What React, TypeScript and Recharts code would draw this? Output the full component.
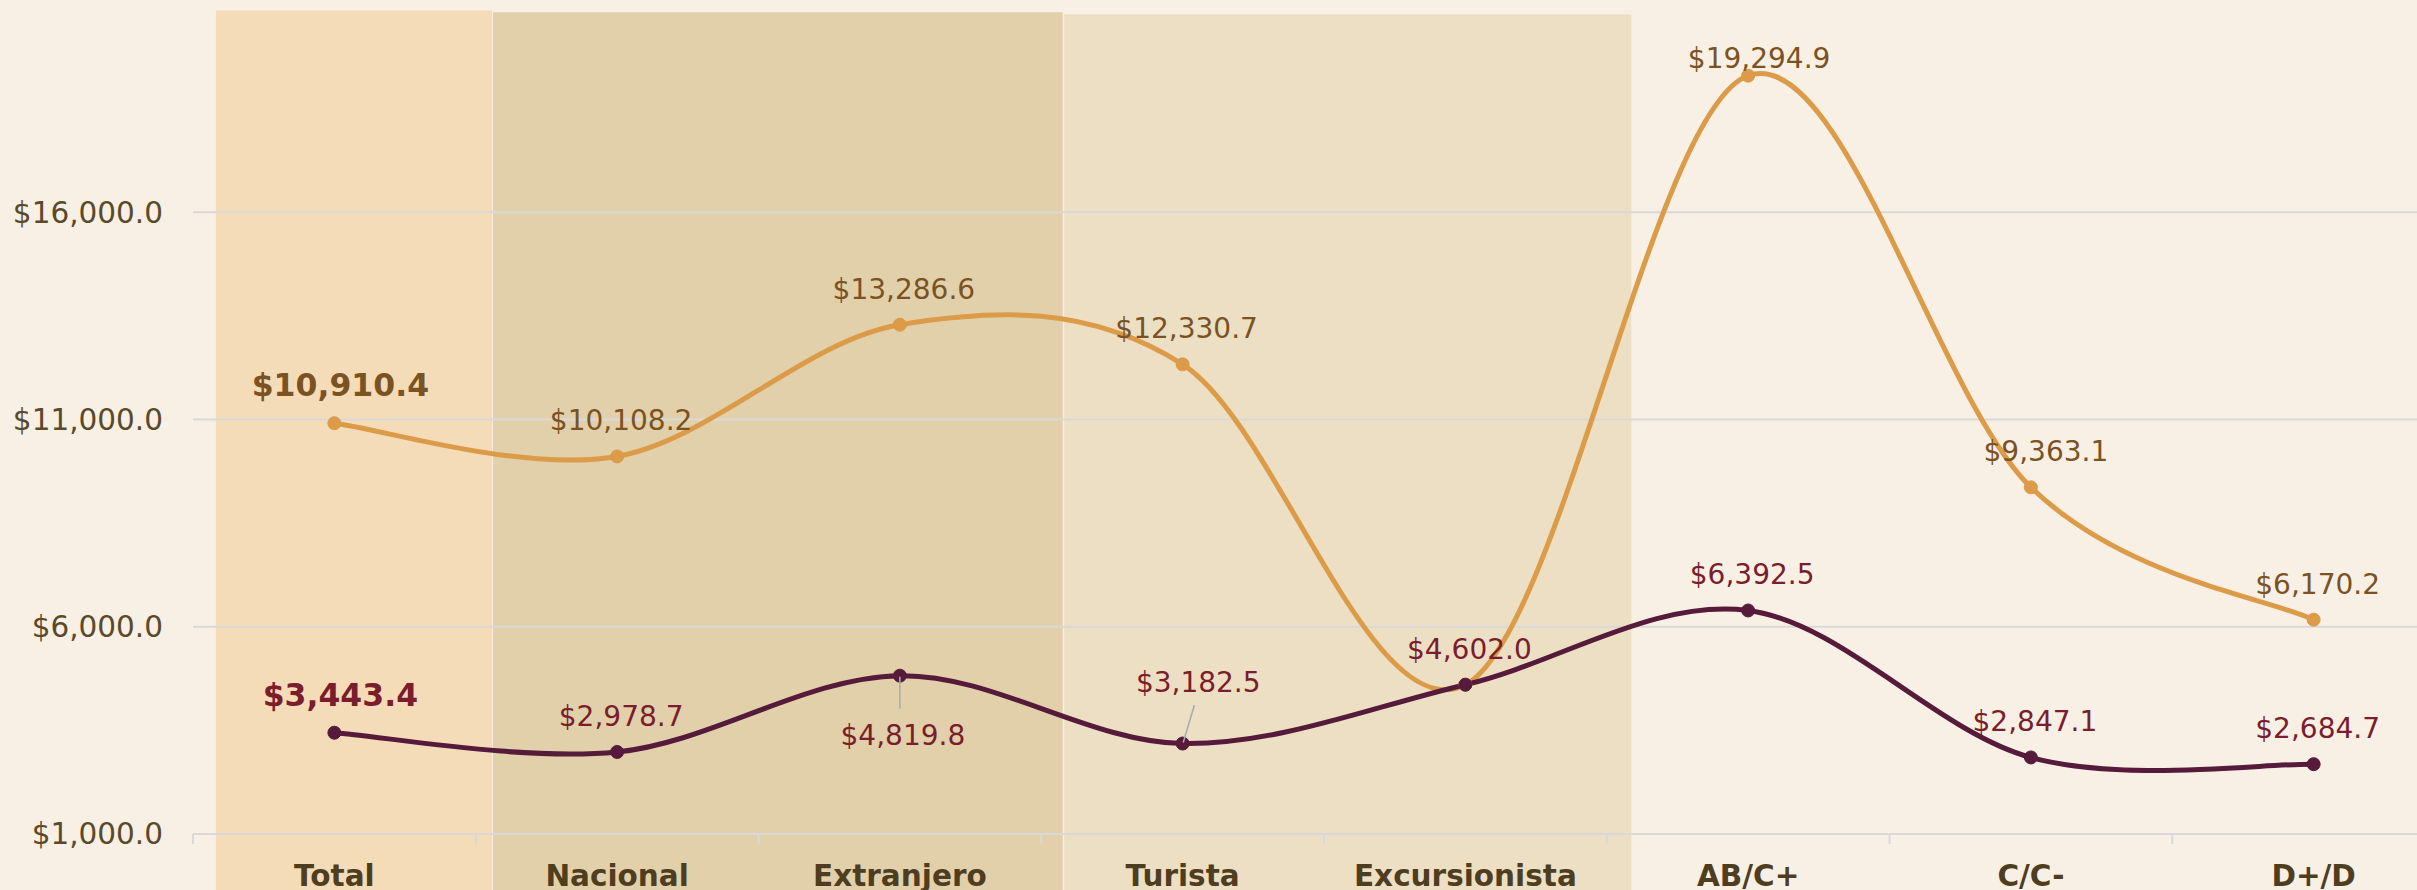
import React from 'react';
import { LineChart, Line, XAxis, YAxis, CartesianGrid, ReferenceArea, LabelList } from 'recharts';

// ---------- data ----------
const categories = ['Total', 'Nacional', 'Extranjero', 'Turista', 'Excursionista', 'AB/C+', 'C/C-', 'D+/D'];
const gastoViaje = [10910.4, 10108.2, 13286.6, 12330.7, 4602.0, 19294.9, 9363.1, 6170.2];
const gastoPersona = [3443.4, 2978.7, 4819.8, 3182.5, 4602.0, 6392.5, 2847.1, 2684.7];
const yTicks = [1000, 6000, 11000, 16000];
const categoryBoundaries = [0, 1, 2, 3, 4, 5, 6, 7, 8];

// decorative background bands (in axis units)
const bands = [
  { x1: 0.081, x2: 1.058, top: 20870, fill: '#f5dcb9' },
  { x1: 1.061, x2: 3.076, top: 20825, fill: '#e2d0ab' },
  { x1: 3.081, x2: 5.087, top: 20775, fill: '#ecdfc4' },
];

const data = categories.map((name, i) => ({
  pos: i + 0.5,
  name,
  viaje: gastoViaje[i],
  persona: gastoPersona[i],
}));

const xTicks = [...categoryBoundaries, ...categories.map((_, i) => i + 0.5)].sort((a, b) => a - b);

// ---------- styles ----------
const FONT = "'DejaVu Sans', Montserrat, sans-serif";
const BG = '#f9f0e5';
const ORANGE = '#dc9b48';
const DARK = '#561a3b';
const ORANGE_TXT = '#7b5222';
const DARK_TXT = '#7a1d2c';
const GRID = '#d9d9d9';
const AXIS_TXT = '#5b4a2a';
const CAT_TXT = '#4e3d1e';

const money = (v: number) =>
  '$' + v.toLocaleString('en-US', { minimumFractionDigits: 1, maximumFractionDigits: 1 });

// Catmull-Rom (cardinal, tension 0) curve factory
function smoothCurve(context: any) {
  let pts: [number, number][] = [];
  return {
    areaStart() {},
    areaEnd() {},
    lineStart() {
      pts = [];
    },
    lineEnd() {
      const n = pts.length;
      if (!n) return;
      context.moveTo(pts[0][0], pts[0][1]);
      for (let i = 0; i < n - 1; i++) {
        const p0 = pts[Math.max(0, i - 1)];
        const p1 = pts[i];
        const p2 = pts[i + 1];
        const p3 = pts[Math.min(n - 1, i + 2)];
        context.bezierCurveTo(
          p1[0] + (p2[0] - p0[0]) / 6,
          p1[1] + (p2[1] - p0[1]) / 6,
          p2[0] - (p3[0] - p1[0]) / 6,
          p2[1] - (p3[1] - p1[1]) / 6,
          p2[0],
          p2[1]
        );
      }
    },
    point(x: number, y: number) {
      pts.push([+x, +y]);
    },
  };
}

type Placement = { dx?: number; dy?: number; minBaseline?: number; hidden?: boolean; leader?: [number, number, number, number] };

const viajePlacement: Record<string, Placement> = {
  'AB/C+': { dx: 11, minBaseline: 68 },
  'C/C-': { dx: 15 },
  Excursionista: { hidden: true },
};
const personaPlacement: Record<string, Placement> = {
  Extranjero: { dx: 3, dy: 69.5, leader: [0, 1, 0, 33] },
  Turista: { dx: 15.6, dy: -52, leader: [11.8, -38.5, 0.6, -1] },
};

const makeLabel = (placements: Record<string, Placement>, color: string) => (props: any) => {
  const idx = props.index;
  const name = categories[idx];
  const pl = placements[name] || {};
  if (pl.hidden) return null;
  const px = props.x ?? props.viewBox?.x;
  const py = props.y ?? props.viewBox?.y;
  const bold = name === 'Total';
  const dx = pl.dx ?? (bold ? 6 : 4);
  let baseline = py + (pl.dy ?? (bold ? -27 : -26));
  if (pl.minBaseline !== undefined) baseline = Math.max(baseline, pl.minBaseline);
  return (
    <g>
      {pl.leader && (
        <line
          x1={px + pl.leader[0]}
          y1={py + pl.leader[1]}
          x2={px + pl.leader[2]}
          y2={py + pl.leader[3]}
          stroke="#a5abb6"
          strokeWidth={1.5}
        />
      )}
      <text
        x={px + dx}
        y={baseline}
        textAnchor="middle"
        fontFamily={FONT}
        fontSize={bold ? 31.5 : 28}
        fontWeight={bold ? 700 : 400}
        fill={color}
      >
        {money(props.value)}
      </text>
    </g>
  );
};

const XTick = (props: any) => {
  const { x, y, payload } = props;
  const v = payload.value as number;
  if (Number.isInteger(v)) {
    return <line x1={x} x2={x} y1={y} y2={y + 10} stroke={GRID} strokeWidth={2} />;
  }
  return (
    <text x={x} y={y + 52} textAnchor="middle" fontFamily={FONT} fontSize={29.5} fontWeight={700} fill={CAT_TXT}>
      {categories[Math.floor(v)]}
    </text>
  );
};

export default function App() {
  return (
    <div
      style={{
        position: 'fixed',
        left: 0,
        top: 0,
        width: 2417,
        height: 890,
        overflow: 'hidden',
        background: BG,
      }}
    >
      <LineChart
        width={2455}
        height={890}
        data={data}
        margin={{ top: 5, right: 0, left: 0, bottom: 0 }}
        style={{ background: BG }}
      >
        {bands.map((b, i) => (
          <ReferenceArea
            key={i}
            x1={b.x1}
            x2={b.x2}
            y1={-400}
            y2={b.top}
            fill={b.fill}
            fillOpacity={1}
            stroke="none"
            ifOverflow="visible"
            zIndex={-200}
          />
        ))}
        <CartesianGrid vertical={false} stroke={GRID} strokeWidth={2} horizontalValues={yTicks} />
        <XAxis
          dataKey="pos"
          type="number"
          domain={[0, 8]}
          ticks={xTicks}
          interval={0}
          tickLine={false}
          tickSize={0}
          tickMargin={0}
          axisLine={{ stroke: GRID, strokeWidth: 2 }}
          height={56}
          tick={<XTick />}
          allowDataOverflow
        />
        <YAxis
          type="number"
          domain={[1000, 21000]}
          ticks={yTicks}
          width={193}
          tickLine={false}
          axisLine={false}
          tickSize={0}
          tickMargin={30}
          tickFormatter={money}
          tick={{ fill: AXIS_TXT, fontSize: 29.5, fontFamily: FONT }}
          allowDataOverflow
        />
        <Line
          dataKey="viaje"
          type={smoothCurve as any}
          stroke={ORANGE}
          strokeWidth={5}
          dot={{ r: 6.5, fill: ORANGE, stroke: ORANGE, strokeWidth: 1 }}
          activeDot={false}
          isAnimationActive={false}
        >
          <LabelList dataKey="viaje" content={makeLabel(viajePlacement, ORANGE_TXT)} />
        </Line>
        <Line
          dataKey="persona"
          type={smoothCurve as any}
          stroke={DARK}
          strokeWidth={5}
          dot={{ r: 6.5, fill: DARK, stroke: DARK, strokeWidth: 1 }}
          activeDot={false}
          isAnimationActive={false}
        >
          <LabelList dataKey="persona" content={makeLabel(personaPlacement, DARK_TXT)} />
        </Line>
      </LineChart>
    </div>
  );
}
